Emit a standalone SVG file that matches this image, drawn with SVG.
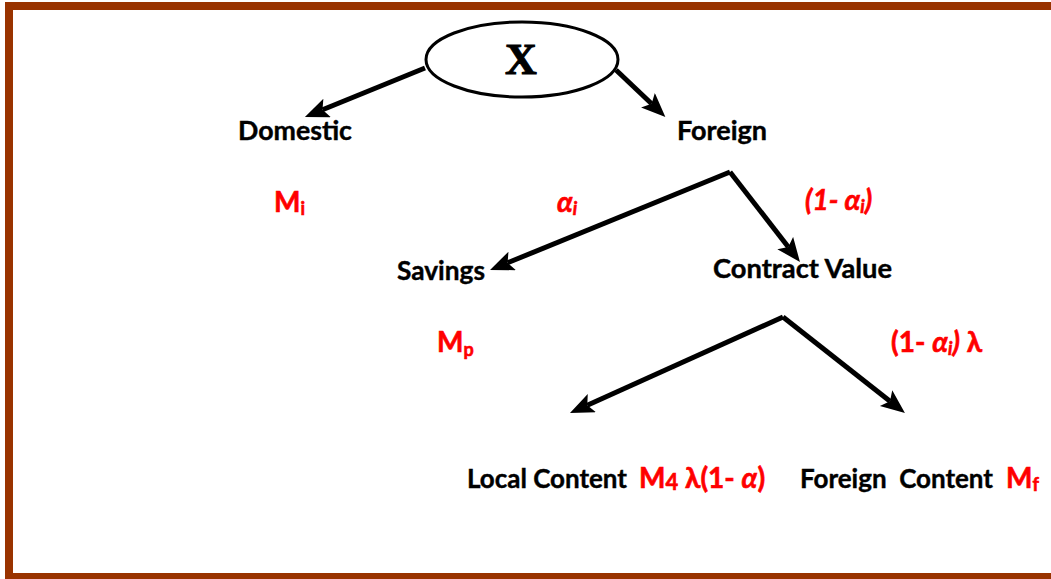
<svg xmlns="http://www.w3.org/2000/svg" width="1051" height="579" viewBox="0 0 1051 579">
<style>
.lbl{font-family:Lato,"Open Sans","DejaVu Sans",sans-serif;font-weight:bold;font-size:26px;fill:#000;stroke:#000;stroke-width:0.4}
.red{font-family:Lato,"Open Sans","DejaVu Sans",sans-serif;font-weight:bold;font-size:28px;fill:#ff0000;stroke:#ff0000;stroke-width:0.6}
.sub{font-size:18px}
.it{font-style:italic}
.conn{stroke:#000;stroke-width:5;fill:none}
</style>
<defs>
<marker id="ah" markerUnits="userSpaceOnUse" markerWidth="26" markerHeight="22" refX="5" refY="10" orient="auto">
<path d="M0,0 L24,10 L0,20 L5,10 z" fill="#000"/>
</marker>
</defs>
<rect width="1051" height="579" fill="#fff"/>
<g id="frame" fill="#993300">
<rect x="5" y="2" width="1046" height="8"/>
<rect x="5" y="2" width="8" height="577"/>
<rect x="5" y="573" width="1046" height="6"/>
</g>
<g id="connectors">
<line class="conn" x1="425" y1="68" x2="322.5" y2="109.8" marker-end="url(#ah)"/>
<line class="conn" x1="616" y1="70" x2="651.6" y2="103.8" marker-end="url(#ah)"/>
<line class="conn" x1="730" y1="172" x2="507.6" y2="262.8" marker-end="url(#ah)"/>
<line class="conn" x1="730" y1="172" x2="788.3" y2="247" marker-end="url(#ah)"/>
<line class="conn" x1="783" y1="317" x2="587.3" y2="405.2" marker-end="url(#ah)"/>
<line class="conn" x1="783" y1="317" x2="890" y2="401.2" marker-end="url(#ah)"/>
</g>
<g id="node-x">
<ellipse cx="522" cy="59.5" rx="96" ry="37.5" fill="#fff" stroke="#000" stroke-width="3"/>
<text x="521" y="74" text-anchor="middle" font-family="'Liberation Serif',serif" font-weight="bold" font-size="44" stroke="#000" stroke-width="1">X</text>
</g>
<g id="node-domestic">
<text class="lbl" x="238" y="140" textLength="114" lengthAdjust="spacingAndGlyphs">Domestic</text>
<text class="red" x="274" y="212">M<tspan class="sub" dy="3">i</tspan></text>
</g>
<g id="node-foreign">
<text class="lbl" x="677" y="140" textLength="90" lengthAdjust="spacingAndGlyphs">Foreign</text>
<text class="red it" x="557" y="212">α<tspan class="sub" dy="3">i</tspan></text>
<text class="red it" x="805" y="210">(1- α<tspan class="sub" dy="3">i</tspan><tspan dy="-3">)</tspan></text>
</g>
<g id="node-savings">
<text class="lbl" x="397" y="280" textLength="88" lengthAdjust="spacingAndGlyphs">Savings</text>
<text class="red" x="437" y="352">M<tspan class="sub" dy="4">p</tspan></text>
</g>
<g id="node-contract">
<text class="lbl" x="713" y="278" textLength="179" lengthAdjust="spacingAndGlyphs">Contract Value</text>
<text class="red" x="891" y="352">(1- <tspan class="it">α</tspan><tspan class="it sub" dy="3">i</tspan><tspan class="it" dy="-3">)</tspan> λ</text>
</g>
<g id="node-local">
<text class="lbl" x="467" y="488" textLength="160" lengthAdjust="spacingAndGlyphs">Local Content</text>
<text class="red" x="639" y="488">M<tspan font-size="22" dy="2">4</tspan><tspan dy="-2"> λ(1- </tspan><tspan class="it">α</tspan>)</text>
</g>
<g id="node-foreigncontent">
<text class="lbl" x="800" y="488" textLength="193" lengthAdjust="spacingAndGlyphs" xml:space="preserve">Foreign  Content</text>
<text class="red" x="1006" y="488">M<tspan class="sub" dy="3">f</tspan></text>
</g>
</svg>
